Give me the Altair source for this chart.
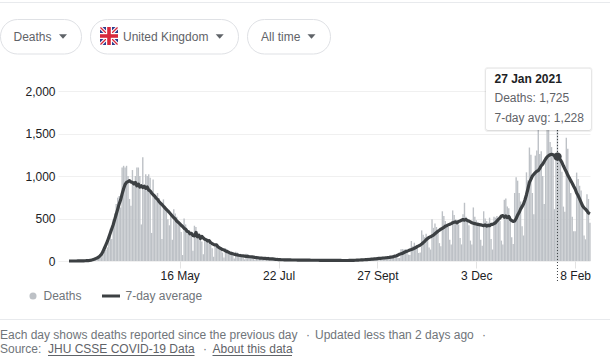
import altair as alt
import pandas as pd

deaths = [
 0,0,0,0,1,0,1, 1,0,2,1,1,2,3,
 1,10,14,20,15,35,40,
 55,45,80,110,130,160,220,
 380,260,490,560,670,745,765,
 630,1100,1120,1100,1120,1000,730,
 650,1070,880,1000,1100,1100,1000,
 430,1220,880,1020,1000,1020,980,
 330,960,760,760,800,740,700,
 260,725,650,620,490,420,530,
 250,610,560,520,440,420,340,
 70,500,430,380,350,330,290,
 120,415,400,350,300,290,230,
 80,255,245,220,210,190,150,
 50,195,180,170,150,130,100,
 40,150,140,120,100,110,70,
 30,110,100,80,85,70,40,
 20,85,80,65,60,55,30,
 15,60,55,50,40,40,25,
 10,45,50,35,30,25,15,
 5,30,30,25,20,18,12,
 5,25,22,20,15,12,8,
 3,18,15,15,12,10,5,
 3,14,12,15,10,8,5,
 2,12,10,12,10,8,4,
 2,10,8,10,8,7,4,
 2,8,8,9,7,6,3,
 2,9,10,10,10,8,4,
 3,14,16,18,15,12,8,
 8,26,30,30,28,25,12,
 10,35,38,50,40,35,20,
 20,55,60,65,62,55,35,
 35,137,140,135,140,130,75,
 70,235,175,215,180,160,95,
 100,360,310,280,320,270,160,
 135,490,390,440,400,370,210,
 175,585,530,470,420,400,250,
 195,595,540,490,480,430,270,
 195,550,685,520,470,420,240,
 195,630,520,480,460,430,250,
 180,585,500,470,450,510,260,
 135,520,510,530,490,470,240,
 195,720,735,640,620,530,280,
 200,800,985,945,800,700,410,
 300,750,1043,950,1335,1250,800,
 550,1240,1300,1820,1260,1290,1000,
 670,1200,1820,1650,1400,1340,1250,
 610,1240,1725,1270,1260,1050,640,
 580,1450,1320,965,800,520,350,
 350,1040,965,885,830,620,300,
 255,785,730,450,
]
avg7 = [
 0,0,0,0,0,0,1, 1,1,2,2,3,4,5,
 7,10,14,20,28,35,45,
 60,80,110,150,190,230,280,
 330,380,430,490,550,610,670,
 720,790,850,900,925,935,945,
 930,925,905,925,885,905,870,
 885,865,880,855,870,835,825,
 800,780,765,740,725,700,680,
 665,645,625,605,590,570,550,
 530,510,495,470,455,440,420,
 405,385,375,350,345,320,325,
 300,295,335,285,305,265,290,
 270,255,250,235,240,215,205,
 195,190,190,165,155,145,135,
 130,120,110,105,95,90,85,
 80,75,72,68,65,62,60,
 58,55,55,52,50,48,45,
 42,40,38,35,35,33,32,
 30,28,28,26,25,24,22,
 20,18,17,16,15,15,14,
 14,13,13,13,12,12,12,
 12,11,11,11,11,10,10,
 10,10,10,9,9,9,9,
 9,9,8,8,8,8,8,
 8,8,7,7,7,7,7,
 7,7,7,6,6,6,6,
 6,7,7,8,8,9,10,
 11,12,13,14,15,16,17,
 18,20,21,22,24,26,28,
 30,32,33,35,36,38,40,
 42,45,48,52,58,62,70,
 80,85,90,100,108,115,122,
 130,135,142,150,158,170,178,
 188,200,215,232,250,265,278,
 285,295,305,320,335,350,362,
 375,385,395,410,415,425,432,
 440,450,455,460,450,465,470,
 480,488,480,490,475,470,460,
 450,445,440,435,430,428,425,
 420,415,425,410,420,415,430,
 430,440,450,470,490,505,530,
 535,515,530,510,525,490,475,
 465,470,500,540,570,610,640,
 670,720,780,850,925,960,1000,
 1020,1040,1055,1063,1090,1120,1140,
 1170,1200,1225,1240,1250,1255,1250,
 1240,1230,1228,1210,1190,1160,1120,
 1083,1050,1010,980,945,915,880,
 847,800,770,730,690,650,625,
 610,590,565,555,
]
tick_days = [75, 142, 209, 276, 343]
tick_labels = ["16 May", "22 Jul", "27 Sept", "3 Dec", "8 Feb"]
y_ticks = [0, 500, 1000, 1500, 2000]
y_labels = ["0", "500", "1,000", "1,500", "2,000"]
highlight_day = [331]
highlight_avg = [1228]

FONT = "Liberation Sans"
BAR = "#bdc1c6"
LINE = "#3c4043"
GREY = "#70757a"
TXT = "#5f6368"
PAD_L, PAD_T = 58, 91

df = pd.DataFrame({"day": list(range(len(deaths))), "deaths": deaths, "avg": avg7})
hl = pd.DataFrame({"day": highlight_day, "avg": highlight_avg})

xs = alt.Scale(domain=[-7.45, 353.05], nice=False, zero=False, padding=0)
ys = alt.Scale(domain=[0, 2000], nice=False, padding=0)
label_expr = "%s[indexof(%s, datum.value)]" % (tick_labels, tick_days)
y_label_expr = "%s[indexof(%s, datum.value)]" % (y_labels, y_ticks)

x_axis = alt.Axis(values=tick_days, labelExpr=label_expr, title=None, grid=False, domain=False,
                  tickSize=7, tickColor="#e3e3e3", labelColor="#202124", labelFontSize=12,
                  labelFont=FONT, labelPadding=2, labelFlush=False, labelOverlap=False)
y_axis = alt.Axis(values=y_ticks, labelExpr=y_label_expr, title=None, grid=True, gridColor="#f0f0f0", domain=False,
                  ticks=False, labelColor="#202124", labelFontSize=12, labelFont=FONT, labelPadding=3)

bars = alt.Chart(df).mark_bar(color=BAR, size=1.4).encode(
    x=alt.X("day:Q", scale=xs, axis=x_axis), y=alt.Y("deaths:Q", scale=ys, axis=y_axis))
line = alt.Chart(df).mark_line(color=LINE, strokeWidth=3.2, strokeJoin="round").encode(
    x=alt.X("day:Q", scale=xs, axis=x_axis), y=alt.Y("avg:Q", scale=ys, axis=y_axis))
cursor = alt.Chart(hl).mark_rule(color=LINE, strokeWidth=1, strokeDash=[1, 2]).encode(
    x=alt.X("day:Q", scale=xs, axis=x_axis), y=alt.value(130 - PAD_T), y2=alt.value(281 - PAD_T))
dot = alt.Chart(hl).mark_circle(color=LINE, size=70, opacity=1).encode(
    x=alt.X("day:Q", scale=xs, axis=x_axis), y=alt.Y("avg:Q", scale=ys, axis=y_axis))

ONE = alt.Data(values=[{}])

def text(s, px, py, size=12, color=TXT, weight="normal", align="left"):
    return alt.Chart(ONE).mark_text(text=s, font=FONT, fontSize=size, color=color, fontWeight=weight,
                                    align=align, baseline="middle").encode(
        x=alt.value(px - PAD_L), y=alt.value(py - PAD_T))

def box(x0, y0, x1, y1, fill="white", stroke=None, radius=0, opacity=1):
    kw = dict(fill=fill, cornerRadius=radius, opacity=opacity)
    if stroke:
        kw.update(stroke=stroke, strokeWidth=1)
    return alt.Chart(ONE).mark_rect(**kw).encode(
        x=alt.value(x0 - PAD_L), x2=alt.value(x1 - PAD_L), y=alt.value(y0 - PAD_T), y2=alt.value(y1 - PAD_T))

def seg(x0, y0, x1, y1, color, width=1):
    return alt.Chart(ONE).mark_rule(color=color, strokeWidth=width).encode(
        x=alt.value(x0 - PAD_L), x2=alt.value(x1 - PAD_L), y=alt.value(y0 - PAD_T), y2=alt.value(y1 - PAD_T))

def caret(px, py):
    return alt.Chart(ONE).mark_point(shape="M-1,-.55L1,-.55L0,.55Z", size=64, filled=True, color="#5f6368",
                                     opacity=1).encode(x=alt.value(px - PAD_L), y=alt.value(py - PAD_T))

decor = [
    seg(0, 2.5, 610, 2.5, "#e8eaed"),
    box(0.5, 19.5, 81.5, 54, stroke="#dfe1e5", radius=17),
    box(90.5, 19.5, 238.5, 54, stroke="#dfe1e5", radius=17),
    box(247.5, 19.5, 330.5, 54, stroke="#dfe1e5", radius=17),
    text("Deaths", 13.5, 36.5, 12),
    caret(63, 36.5),
    box(100, 27, 118, 45, fill="#2b3a8c", radius=2),
    seg(100.5, 27.5, 117.5, 44.5, "white", 3.5),
    seg(100.5, 44.5, 117.5, 27.5, "white", 3.5),
    seg(100.5, 27.5, 117.5, 44.5, "#d8283c", 1.2),
    seg(100.5, 44.5, 117.5, 27.5, "#d8283c", 1.2),
    box(100, 33, 118, 39, fill="white"),
    box(106, 27, 112, 45, fill="white"),
    box(100, 34.2, 118, 37.8, fill="#d8283c"),
    box(107.2, 27, 110.8, 45, fill="#d8283c"),
    text("United Kingdom", 123, 36.5, 12),
    caret(219.7, 36.5),
    text("All time", 261, 36.5, 12),
    caret(311.5, 36.5),
    box(484.5, 67, 592.5, 132, fill="#000000", radius=3, opacity=0.06),
    box(485.5, 68, 591.5, 131, fill="#000000", radius=3, opacity=0.08),
    box(486, 68.5, 591, 130, fill="white", radius=2),
    text("27 Jan 2021", 494.5, 78.5, 12, "#202124", "bold"),
    text("Deaths: 1,725", 494.5, 97.5, 12),
    text("7-day avg: 1,228", 494.5, 117.5, 12),
    alt.Chart(ONE).mark_circle(color=BAR, size=50, opacity=1).encode(x=alt.value(33 - PAD_L), y=alt.value(296 - PAD_T)),
    text("Deaths", 43.5, 296, 12, GREY),
    seg(102, 296, 120, 296, LINE, 3),
    text("7-day average", 125.5, 296, 12, GREY),
    seg(0, 319.5, 610, 319.5, "#e8eaed"),
    text("Each day shows deaths reported since the previous day", 0, 334.5, 12, GREY),
    text("·", 306, 334.5, 12, GREY),
    text("Updated less than 2 days ago", 315, 334.5, 12, GREY),
    text("·", 482, 334.5, 12, GREY),
    text("Source:", 0, 349, 12, GREY),
    text("JHU CSSE COVID-19 Data", 48, 349, 12, TXT),
    seg(48, 355.5, 194.5, 355.5, TXT),
    text("·", 203, 349, 12, GREY),
    text("About this data", 212.5, 349, 12, TXT),
    seg(212.5, 355.5, 292, 355.5, TXT),
]

chart = alt.layer(bars, line, cursor, dot, *decor).properties(
    width=532, height=170,
    padding={"left": PAD_L, "top": PAD_T, "right": 20, "bottom": 99},
    autosize=alt.AutoSizeParams(type="none"),
    background="white",
).configure_view(stroke=None)

chart.save("out.html", embed_options={"renderer": "svg", "actions": False, "defaultStyle": "body{margin:0}"})
